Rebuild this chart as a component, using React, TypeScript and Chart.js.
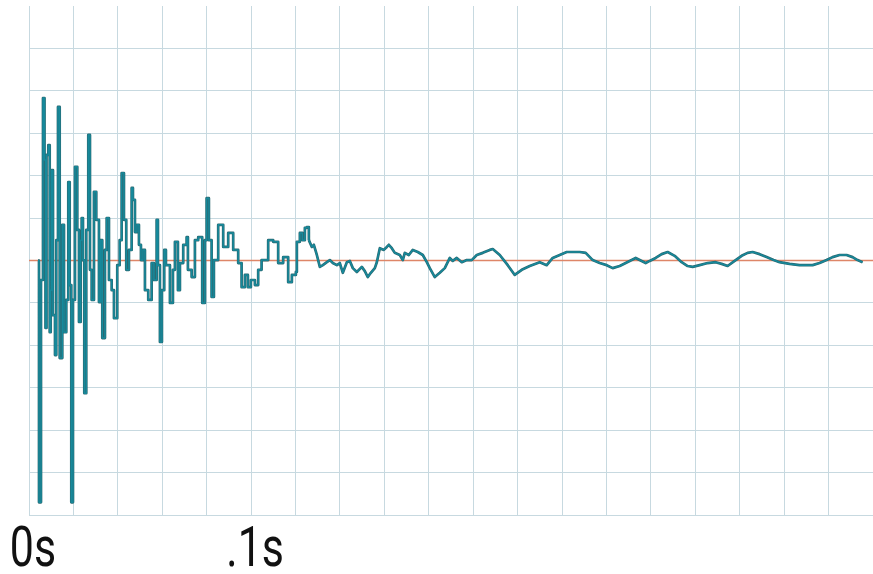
import { useEffect, useRef } from "react";
import { Chart, registerables } from "chart.js";

Chart.register(...registerables);

// Sample times in milliseconds
const timeMs = [
  4.05, 4.5, 5.4, 6.3, 6.98, 7.43, 7.88, 8.69, 9.32, 9.77,
  10.22, 10.8, 11.7, 12.29, 13.05, 13.82, 14.99, 15.75, 16.79, 17.69,
  18.32, 19.04, 19.8, 20.7, 21.74, 22.5, 23.27, 23.72, 24.3, 24.89,
  25.79, 26.69, 27.45, 28.22, 29.25, 30.29, 31.5, 32.27, 32.99, 34.2,
  34.97, 36.0, 37.22, 38.25, 39.74, 40.82, 41.72, 42.75, 43.79, 45.0,
  46.22, 46.8, 47.7, 48.6, 49.5, 50.4, 51.3, 52.2, 53.69, 55.22,
  56.25, 57.47, 58.05, 58.95, 59.85, 60.89, 61.65, 63.45, 64.8, 65.7,
  67.05, 67.95, 69.44, 70.97, 71.55, 73.22, 74.7, 76.19, 77.99, 79.2,
  79.97, 81.0, 82.22, 83.25, 85.19, 87.44, 89.69, 91.94, 94.19, 95.72,
  97.2, 98.55, 99.9, 101.7, 103.19, 104.72, 107.69, 109.94, 112.19, 114.44,
  116.69, 118.35, 120.15, 120.6, 121.95, 123.08, 124.2, 125.1, 126.0, 127.35,
  128.25, 129.6, 130.95, 132.3, 134.1, 135.45, 136.8, 138.6, 139.95, 141.3,
  143.1, 144.45, 145.8, 147.6, 149.85, 151.2, 152.55, 153.9, 155.7, 156.6,
  157.95, 159.75, 161.1, 162.0, 163.35, 164.7, 166.95, 168.3, 169.2, 171.0,
  172.8, 175.05, 177.3, 179.1, 180.45, 182.7, 184.95, 187.2, 189.45, 190.8,
  192.6, 194.85, 197.1, 199.35, 201.6, 204.3, 207.45,
  208.8, 211.95, 215.55, 218.7, 221.85, 225.45, 229.95, 233.1, 235.8, 238.95,
  242.1, 244.8, 247.95, 250.65, 253.8, 256.95, 260.1, 262.8, 265.95, 268.65,
  273.15, 277.65, 279.45, 282.15, 284.85, 287.55, 290.7, 293.85, 296.55, 298.8,
  301.95, 305.55, 309.15, 311.85, 314.55, 317.7, 320.85, 323.55, 325.8, 328.95,
  332.1, 335.25, 337.95, 342.45, 346.95, 352.8, 355.95, 359.1, 361.8, 364.95,
  368.1, 370.8, 373.05, 375.3,
];

// Signal amplitude in grid divisions
const amplitude = [
  0.0, -5.7, -0.46, 3.83, 2.37, -1.59, 2.49, 2.72, -1.69, -0.7,
  2.13, -1.29, -2.23, 0.48, 3.62, -2.3, 0.84, -1.69, -0.93, 1.85,
  -0.58, -5.7, -0.93, 2.21, 0.72, -1.45, 0.48, 1.0, 0.01, -3.13,
  0.72, 2.96, -0.22, -0.93, 1.62, 0.96, -0.98, 0.48, -1.83, 0.25,
  1.0, -0.46, -0.7, -1.36, -0.11, 0.48, 2.06, 0.96, -0.22, 0.25,
  1.71, 1.43, 0.67, 0.84, 0.37, 0.01, 0.25, -0.7, -0.93, -0.06,
  -0.46, 0.96, -0.11, -1.92, -0.7, 0.25, -0.11, -1.0, -0.22, 0.44,
  -0.7, -0.06, 0.37, 0.55, -0.22, -0.39, 0.48, 0.55, -1.0, 0.48,
  1.47, 0.48, -0.86, 0.01, 0.84, 0.32, 0.65, 0.25, -0.06, -0.63,
  -0.34, -0.63, -0.46, -0.58, -0.22, 0.01, 0.48, 0.44, -0.06, 0.08,
  -0.51, -0.34, -0.27, 0.44, 0.65, 0.48, 0.77, 0.79, 0.48, 0.32,
  0.37, 0.13, -0.15, -0.11, -0.04, 0.01, -0.06, -0.11, -0.06, -0.29,
  -0.04, -0.01, -0.18, -0.27, -0.15, -0.25, -0.39, -0.29, -0.18, -0.04,
  0.29, 0.25, 0.32, 0.37, 0.29, 0.18, 0.13, 0.01, 0.18, 0.13,
  0.25, 0.2, 0.13, -0.04, -0.18, -0.39, -0.29, -0.18, 0.06, -0.01,
  0.06, -0.04, 0.01, 0.01, 0.13, 0.18, 0.25,
  0.27, 0.13, -0.11, -0.34, -0.22, -0.13, -0.04, -0.11, 0.06, 0.13,
  0.2, 0.2, 0.2, 0.18, 0.01, -0.06, -0.11, -0.18, -0.13, -0.06,
  0.06, -0.06, -0.01, 0.06, 0.15, 0.2, 0.11, -0.04, -0.13, -0.15,
  -0.11, -0.06, -0.04, -0.08, -0.13, -0.01, 0.11, 0.18, 0.2, 0.15,
  0.08, 0.01, -0.04, -0.08, -0.11, -0.11, -0.06, 0.01, 0.08, 0.13,
  0.13, 0.08, 0.01, -0.04,
];

// The noisy onset is drawn as a sample-and-hold trace, the tail as a plain line
const steppedUntilMs = 126;

// Reference (zero) line end points
const zeroTimes = [0, 380];
const zeroValues = [0, 0];

// Time-axis labels
const labelTimes = [0, 100];
const labelTexts = ["0s", ".1s"];

const GRID = "#c7d9e0";
const CORE = "#16899b";
const EDGE = "#2c6870";

const timeLabels = {
  id: "timeLabels",
  afterDraw(chart: any) {
    const { ctx } = chart;
    const xs = chart.scales.x;
    ctx.save();
    ctx.fillStyle = "#111111";
    ctx.font = "400 55px Roboto, 'DejaVu Sans', sans-serif";
    ctx.textAlign = "center";
    ctx.textBaseline = "alphabetic";
    labelTimes.forEach((t, i) => {
      ctx.save();
      ctx.translate(xs.getPixelForValue(t) + 4, 566);
      ctx.scale(0.78, 1);
      ctx.fillText(labelTexts[i], 0, 0);
      ctx.restore();
    });
    ctx.restore();
  },
};

export default function App() {
  const canvasRef = useRef<HTMLCanvasElement | null>(null);

  useEffect(() => {
    if (!canvasRef.current) return;
    const points = timeMs.map((t, i) => ({ x: t, y: amplitude[i] }));
    const splitAt = timeMs.findIndex((t) => t >= steppedUntilMs);
    const onset = points.slice(0, splitAt + 1);
    const tail = points.slice(splitAt);
    const zero = zeroTimes.map((t, i) => ({ x: t, y: zeroValues[i] }));
    const trace = (data: any[], color: string, width: number, stepped: any) => ({
      data,
      showLine: true,
      borderColor: color,
      borderWidth: width,
      pointRadius: 0,
      tension: 0,
      stepped,
      borderJoinStyle: "round" as const,
    });
    const chart = new Chart(canvasRef.current, {
      type: "scatter",
      data: {
        datasets: [
          trace(onset, CORE, 1.5, "before"),
          trace(tail, CORE, 1.5, false),
          trace(onset, EDGE, 2.7, "before"),
          trace(tail, EDGE, 2.7, false),
          {
            data: zero,
            showLine: true,
            borderColor: "#de8668",
            borderWidth: 1.6,
            pointRadius: 0,
          },
        ],
      },
      options: {
        animation: false,
        responsive: false,
        maintainAspectRatio: false,
        layout: { padding: { left: 29, top: 6, right: 0, bottom: 59 } },
        plugins: {
          legend: { display: false },
          tooltip: { enabled: false },
        },
        scales: {
          x: {
            type: "linear",
            min: 0,
            max: 380,
            ticks: { display: false, stepSize: 20 },
            grid: { color: GRID, lineWidth: 1, drawTicks: false },
            border: { display: false },
          },
          y: {
            type: "linear",
            min: -6,
            max: 6,
            ticks: { display: false, stepSize: 1 },
            grid: {
              color: (c: any) => (c.tick && c.tick.value === 6 ? "rgba(0,0,0,0)" : GRID),
              lineWidth: 1,
              drawTicks: false,
            },
            border: { display: false },
          },
        },
      },
      plugins: [timeLabels],
    });
    return () => chart.destroy();
  }, []);

  return (
    <div style={{ position: "absolute", left: 0, top: 0, width: 873, height: 574, background: "#ffffff" }}>
      <canvas ref={canvasRef} width={873} height={574} style={{ width: 873, height: 574, display: "block" }} />
    </div>
  );
}
